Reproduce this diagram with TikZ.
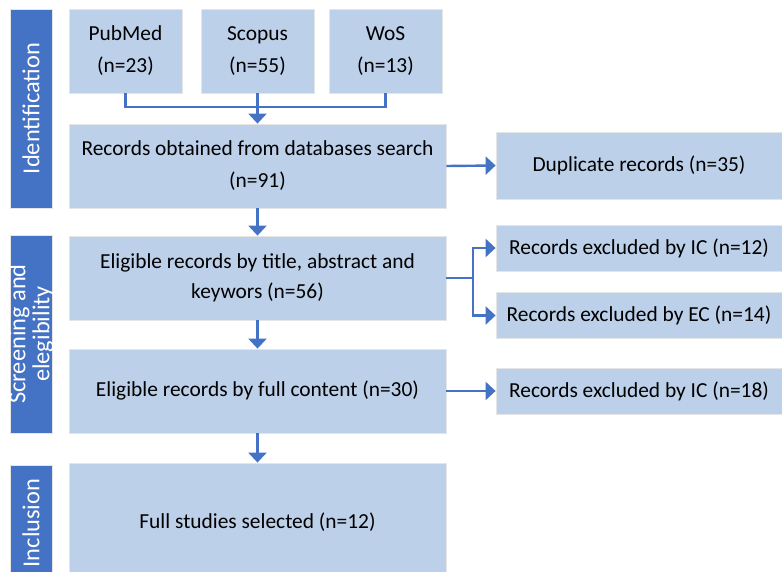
\documentclass[tikz,border=0pt]{standalone}
\usepackage{fontspec}
\setmainfont{Carlito}
\usetikzlibrary{arrows.meta}
\definecolor{boxblue}{HTML}{BDD0E9}
\definecolor{barblue}{HTML}{4472C4}
\begin{document}
\begin{tikzpicture}[x=0.5pt, y=-0.5pt]
	\tikzstyle{box_step} = [rectangle, fill=boxblue, draw=gray!20, line width=0.4pt, inner sep=0pt, align=center, font=\fontsize{10.7}{16}\selectfont]
	\tikzstyle{box_phase} = [rectangle, fill=barblue, draw=gray!20, line width=0.4pt, inner sep=0pt, minimum width=21pt, text=white, align=center, font=\fontsize{12}{13}\selectfont]
	\tikzstyle{link} = [draw=barblue, line width=1.2pt]
	\tikzstyle{link_arrow} = [link, -{Triangle[width=9pt, length=5pt]}]

	\useasboundingbox (0,0) rectangle (782,572);
	\clip (0,0) rectangle (782,572);

%------------------------------------------------------------
	\node[box_phase, minimum height=99.5pt] (p1) at (31,108.5) {};
	\node[box_phase, minimum height=99pt] (p2) at (31,334) {};
	\node[box_phase, minimum height=58pt] (p3) at (31,523) {};

	\node[rotate=90, text=white, font=\fontsize{12.2}{13}\selectfont] at (p1) {Identification};
	\node[rotate=90, text=white, align=center, font=\fontsize{12.2}{12}\selectfont] at (p2) {Screening and\\elegibility};
	\node[rotate=90, text=white, font=\fontsize{12.2}{13}\selectfont] at (p3) {Inclusion};

%------------------------------------------------------------
	\node[box_step, minimum width=56.5pt, minimum height=42pt] (pm) at (125.5,51) {PubMed\\(n=23)};
	\node[box_step, minimum width=56.5pt, minimum height=42pt] (sc) at (257.5,51) {Scopus\\(n=55)};
	\node[box_step, minimum width=56.5pt, minimum height=42pt] (wos) at (385.5,51) {WoS\\(n=13)};

	\node[box_step, minimum width=188.5pt, minimum height=42pt] (rec) at (257.5,166) {Records obtained from databases search\\(n=91)};
	\node[box_step, minimum width=143pt, minimum height=33.5pt] (dup) at (639,165.5) {Duplicate records (n=35)};

%------------------------------------------------------------
	\node[box_step, minimum width=188.5pt, minimum height=42pt, font=\fontsize{10.7}{15}\selectfont] (el1) at (257.5,278) {Eligible records by title, abstract and\\keywors (n=56)};
	\node[box_step, minimum width=143pt, minimum height=23pt] (ic12) at (639,248) {Records excluded by IC (n=12)};
	\node[box_step, minimum width=143pt, minimum height=23pt] (ec14) at (639,315.5) {Records excluded by EC (n=14)};

	\node[box_step, minimum width=188.5pt, minimum height=42pt] (el2) at (257.5,391) {Eligible records by full content (n=30)};
	\node[box_step, minimum width=143pt, minimum height=23pt] (ic18) at (639,391) {Records excluded by IC (n=18)};

%------------------------------------------------------------
	\node[box_step, minimum width=188.5pt, minimum height=59pt] (full) at (257.5,522) {Full studies selected (n=12)};

%------------------------------------------------------------
	\coordinate (join) at (257.5,107);
	\coordinate (split) at (473,278);

	\draw[link] (pm.south) |- (join) -| (wos.south);
	\draw[link_arrow] (sc.south) -- (rec.north);
	\draw[link_arrow] (rec.east) -- (dup.west);
	\draw[link_arrow] (rec.south) -- (el1.north);
	\draw[link] (el1.east) -- (split);
	\draw[link_arrow] (split) |- (ic12.west);
	\draw[link_arrow] (split) |- (ec14.west);
	\draw[link_arrow] (el1.south) -- (el2.north);
	\draw[link_arrow] (el2.east) -- (ic18.west);
	\draw[link_arrow] (el2.south) -- (full.north);

	\end{tikzpicture}
\end{document}
